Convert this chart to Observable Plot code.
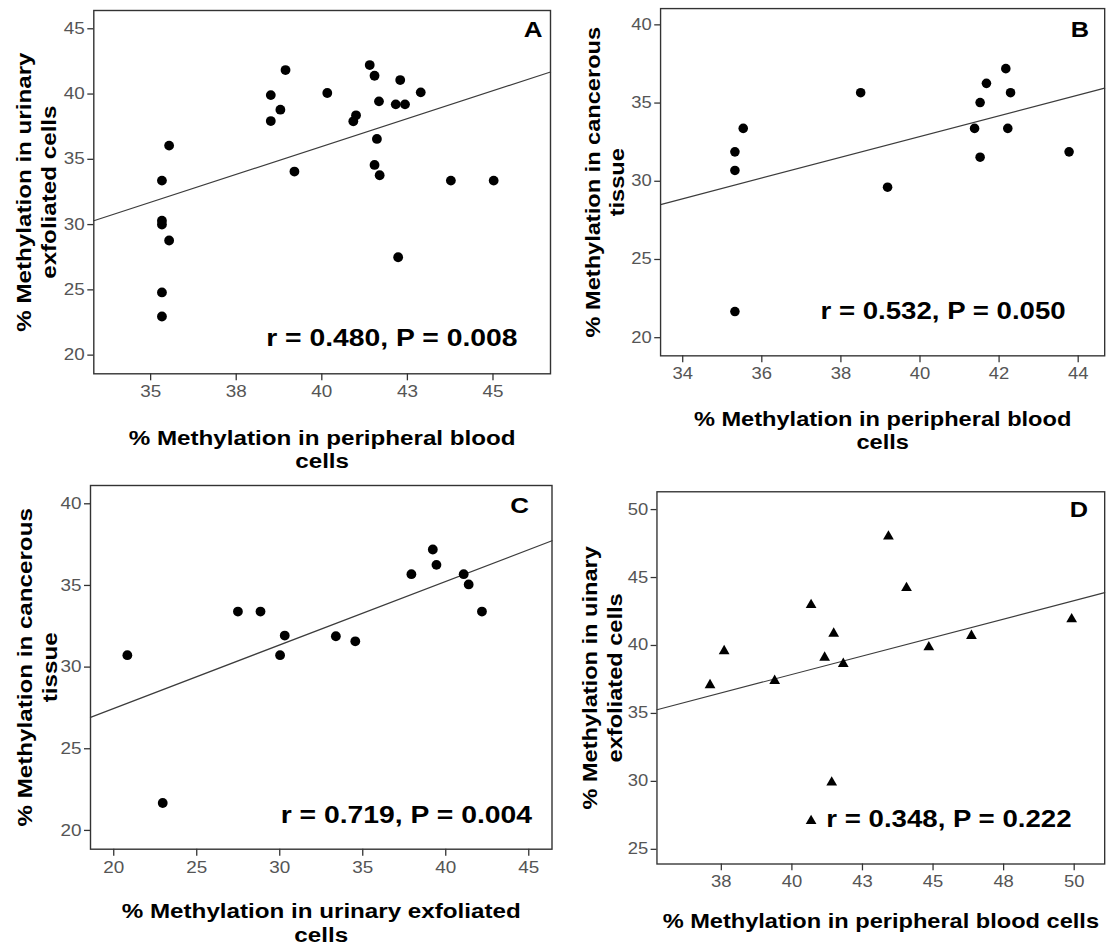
<!DOCTYPE html>
<html>
<head>
<meta charset="utf-8">
<script src="https://cdn.jsdelivr.net/npm/d3@7"></script>
<script src="https://cdn.jsdelivr.net/npm/@observablehq/plot@0.6"></script>
<style>
  html, body { margin: 0; padding: 0; background: #fff; overflow: hidden; width: 1112px; height: 947px; }
  #wrap { position: relative; width: 1112px; height: 947px; overflow: hidden; background: #fff; }
  .panel { position: absolute; }
</style>
</head>
<body>
<div id="wrap"></div>
<script>
// ---------- DATA ----------
// Panel A: peripheral blood (x) vs urinary exfoliated cells (y)
const aBlood = [35.33, 35.33, 35.33, 35.33, 35.33, 35.54, 35.54, 38.51, 38.51, 38.79, 38.94, 39.20, 40.16, 40.92, 41.00, 41.40, 41.54, 41.67, 41.61, 41.54, 41.69, 42.23, 42.16, 42.43, 42.29, 42.89, 43.77, 45.02];
const aUrine = [22.96, 24.80, 30.00, 30.30, 33.37, 28.78, 36.05, 39.92, 37.93, 38.80, 41.84, 34.06, 40.08, 37.91, 38.37, 42.22, 41.40, 39.44, 36.56, 34.57, 33.78, 27.50, 39.21, 39.21, 41.07, 40.13, 33.37, 33.37];
// Panel B: peripheral blood (x) vs cancerous tissue (y)
const bBlood = [35.32, 35.32, 35.32, 35.53, 38.50, 39.18, 41.38, 41.52, 41.52, 41.68, 42.17, 42.29, 42.22, 43.77];
const bTissue = [21.67, 30.69, 31.88, 33.38, 35.66, 29.62, 33.38, 35.03, 31.54, 36.26, 37.20, 35.66, 33.38, 31.88];
// Panel C: urinary exfoliated cells (x) vs cancerous tissue (y)
const cUrine = [20.82, 22.95, 27.48, 28.84, 30.02, 30.30, 33.38, 34.55, 37.93, 39.22, 39.44, 41.08, 41.38, 42.18];
const cTissue = [30.73, 21.68, 33.40, 33.40, 30.73, 31.93, 31.89, 31.58, 35.69, 37.20, 36.26, 35.69, 35.06, 33.40];
// Panel D: peripheral blood (x) vs urinary exfoliated cells (y)
const dBlood = [37.10, 37.60, 39.39, 40.68, 40.68, 41.16, 41.48, 41.41, 41.82, 43.42, 44.06, 44.85, 46.36, 49.91];
const dUrine = [37.09, 39.59, 37.40, 42.99, 27.09, 39.11, 40.88, 29.92, 38.65, 48.03, 44.24, 39.88, 40.71, 41.94];

// Fit lines: [intercept, slope]
const fitA = [1.82, 0.854];
const fitB = [6.34, 0.663];
const fitC = [19.69, 0.389];
const fitD = [16.15, 0.543];

// Axis extents
const xDomA = [33.34, 46.68], yDomA = [18.57, 46.40];
const xDomB = [33.44, 44.67], yDomB = [18.84, 41.04];
const xDomC = [18.6, 46.4],   yDomC = [18.85, 41.12];
const xDomD = [35.22, 51.08], yDomD = [23.92, 51.31];

// Ticks and tick labels
const xTicksA = [35, 37.5, 40, 42.5, 45];           const xLabelsA = ["35", "38", "40", "43", "45"];
const yTicksA = [20, 25, 30, 35, 40, 45];
const xTicksB = [34, 36, 38, 40, 42, 44];           const xLabelsB = ["34", "36", "38", "40", "42", "44"];
const yTicksB = [20, 25, 30, 35, 40];
const xTicksC = [20, 25, 30, 35, 40, 45];           const xLabelsC = ["20", "25", "30", "35", "40", "45"];
const yTicksC = [20, 25, 30, 35, 40];
const xTicksD = [37.5, 40, 42.5, 45, 47.5, 50];     const xLabelsD = ["38", "40", "43", "45", "48", "50"];
const yTicksD = [25, 30, 35, 40, 45, 50];

// Texts
const letters = ["A", "B", "C", "D"];
const stats = ["r = 0.480, P = 0.008", "r = 0.532, P = 0.050", "r = 0.719, P = 0.004", "r = 0.348, P = 0.222"];
const xTitles = [
  "% Methylation in peripheral blood\ncells",
  "% Methylation in peripheral blood\ncells",
  "% Methylation in urinary exfoliated\ncells",
  "% Methylation in peripheral blood cells"
];
const yTitles = [
  "% Methylation in urinary\nexfoliated cells",
  "% Methylation in cancerous\ntissue",
  "% Methylation in cancerous\ntissue",
  "% Methylation in uinary\nexfoliated cells"
];

// ---------- LAYOUT (positions / styles) ----------
const layout = [
  {left: 0,   top: 0,   w: 556, h: 475, mL: 93.3,  mR: 6,   mT: 10,   mB: 101.7, L: [-8, 11],  R: [-33, -35], XT: 54, YT: -58,   sym: "circle"},
  {left: 556, top: 0,   w: 570, h: 475, mL: 106.7, mR: 8,   mT: 8.3,  mB: 110.7, L: [-16, 14], R: [-40, -45], XT: 55, YT: -58,   sym: "circle"},
  {left: 0,   top: 475, w: 556, h: 472, mL: 90,    mR: 4.5, mT: 10,   mB: 98.3,  L: [-23, 12], R: [-20, -34], XT: 52, YT: -54,   sym: "circle"},
  {left: 556, top: 475, w: 570, h: 472, mL: 103,   mR: 8,   mT: 16.7, mB: 73.7,  L: [-17, 10], R: [-34, -46], XT: 49, YT: -56.5, sym: "triangle"}
];

const panels = [
  {xs: aBlood, ys: aUrine,  fit: fitA, xDom: xDomA, yDom: yDomA, xTicks: xTicksA, xLabels: xLabelsA, yTicks: yTicksA},
  {xs: bBlood, ys: bTissue, fit: fitB, xDom: xDomB, yDom: yDomB, xTicks: xTicksB, xLabels: xLabelsB, yTicks: yTicksB},
  {xs: cUrine, ys: cTissue, fit: fitC, xDom: xDomC, yDom: yDomC, xTicks: xTicksC, xLabels: xLabelsC, yTicks: yTicksC},
  {xs: dBlood, ys: dUrine,  fit: fitD, xDom: xDomD, yDom: yDomD, xTicks: xTicksD, xLabels: xLabelsD, yTicks: yTicksD}
];

const FONT = "'Liberation Sans', Arial, Helvetica, sans-serif";
const STRETCH = 1.18; // the reference lettering is horizontally wide

const wrap = document.getElementById("wrap");

panels.forEach((p, i) => {
  const L = layout[i];
  const pts = p.xs.map((x, k) => ({x, y: p.ys[k]}));
  const fitLine = p.xDom.map(x => ({x, y: p.fit[0] + p.fit[1] * x}));
  const dotR = L.sym === "triangle" ? 4.1 : 4.9;

  const svg = Plot.plot({
    width: L.w,
    height: L.h,
    marginLeft: L.mL,
    marginRight: L.mR,
    marginTop: L.mT,
    marginBottom: L.mB,
    style: {fontFamily: FONT, background: "transparent", overflow: "visible", color: "#000"},
    x: {domain: p.xDom, label: null},
    y: {domain: p.yDom, label: null},
    marks: [
      Plot.axisX({ticks: p.xTicks, tickFormat: d => p.xLabels[p.xTicks.indexOf(d)], tickSize: 7, tickPadding: 5,
                  fontSize: 16, fill: "#555", stroke: "#333", strokeWidth: 1.3, label: null}),
      Plot.axisY({ticks: p.yTicks, tickSize: 6, tickPadding: 3, fontSize: 16, fill: "#555", stroke: "#333",
                  strokeWidth: 1.3, label: null}),
      Plot.line(fitLine, {x: "x", y: "y", stroke: "#3c3c3c", strokeWidth: 1.2}),
      Plot.dot(pts, {x: "x", y: "y", r: dotR, symbol: L.sym, fill: "#000", stroke: "none"}),
      Plot.frame({stroke: "#333", strokeWidth: 1.4}),
      Plot.text([letters[i]], {frameAnchor: "top-right", textAnchor: "end", lineAnchor: "top",
                  dx: L.L[0], dy: L.L[1], fontSize: 22, fontWeight: "bold", fill: "#000"}),
      Plot.text([stats[i]], {frameAnchor: "bottom-right", textAnchor: "end", lineAnchor: "middle",
                  dx: L.R[0], dy: L.R[1], fontSize: 24, fontWeight: "bold", fill: "#000"}),
      Plot.text([xTitles[i]], {frameAnchor: "bottom", textAnchor: "middle", lineAnchor: "top",
                  dy: L.XT, fontSize: 20.5, fontWeight: "bold", lineHeight: 1.15, fill: "#000"}),
      Plot.text([yTitles[i]], {frameAnchor: "left", textAnchor: "middle", lineAnchor: "middle", rotate: -90,
                  dx: L.YT, fontSize: 20.5, fontWeight: "bold", lineHeight: 1.22, fill: "#000"})
    ]
  });

  // widen glyphs along the text direction; keep Plot's own x/y (em offsets) untouched
  svg.querySelectorAll("text").forEach(t => {
    const tr = t.getAttribute("transform");
    const xa = t.getAttribute("x");
    if (tr) {
      t.setAttribute("transform", `${tr} scale(${STRETCH},1)`);
      if (xa && !isNaN(+xa) && +xa !== 0) t.setAttribute("x", +xa / STRETCH);
    } else {
      const x = xa && !isNaN(+xa) ? +xa : 0;
      t.setAttribute("transform", `translate(${x},0) scale(${STRETCH},1)`);
      if (xa) t.removeAttribute("x");
    }
  });

  const div = document.createElement("div");
  div.className = "panel";
  div.style.left = L.left + "px";
  div.style.top = L.top + "px";
  div.appendChild(svg);
  wrap.appendChild(div);
});
</script>
</body>
</html>
